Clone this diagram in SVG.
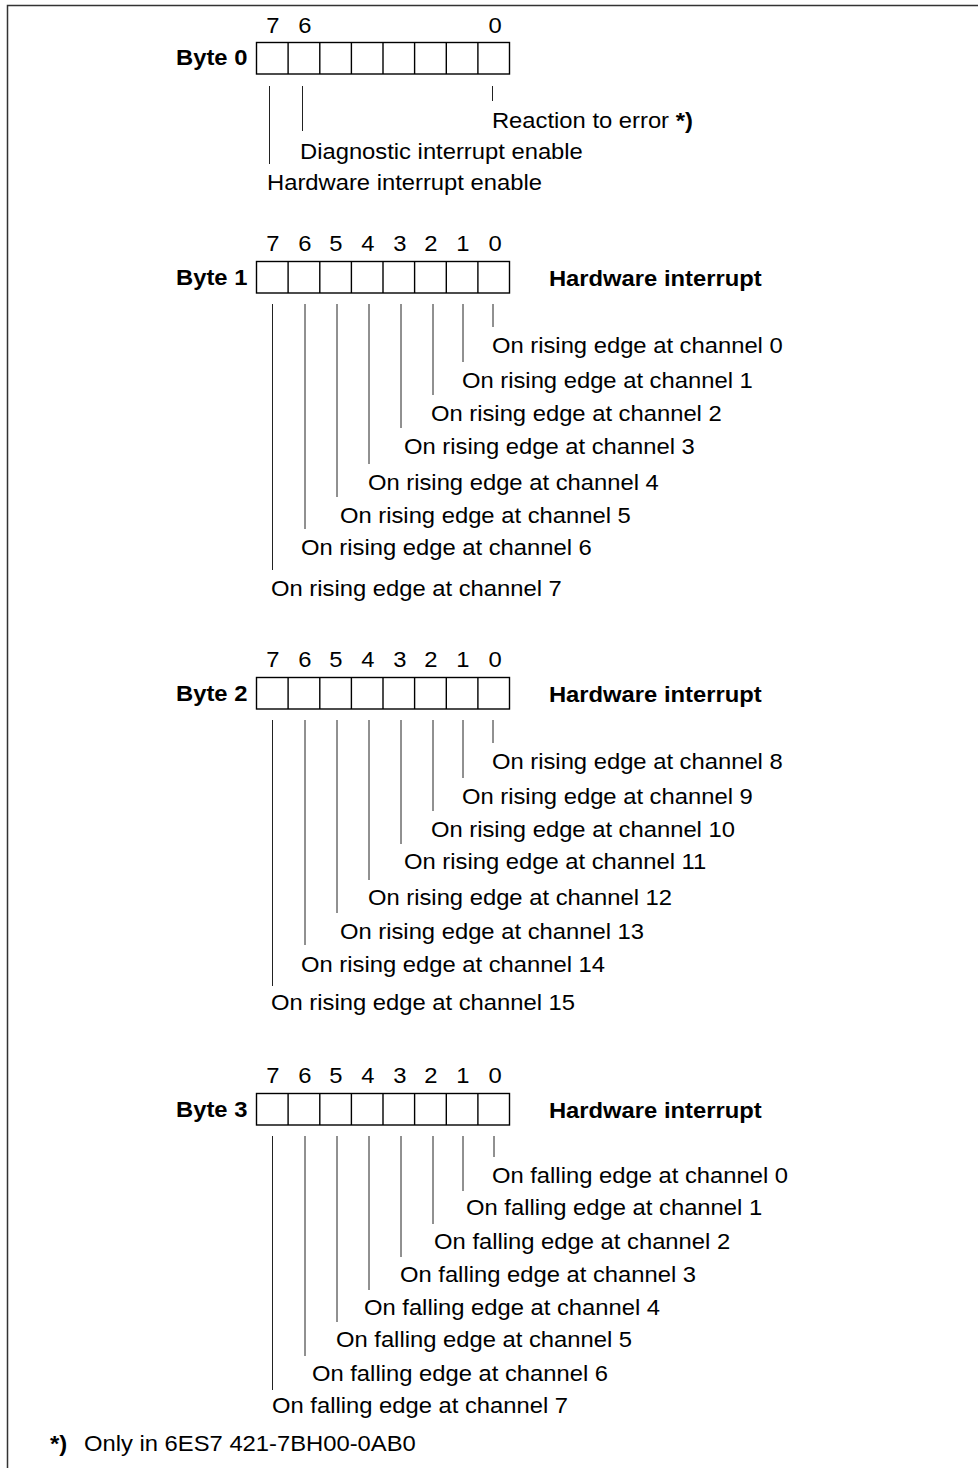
<svg xmlns="http://www.w3.org/2000/svg" width="978" height="1468" viewBox="0 0 978 1468">
<style>
.t{font-family:"Liberation Sans",Arial,sans-serif;font-size:21.5px;fill:#000}
.b{font-weight:bold}
.d{text-anchor:middle}
.box{fill:none;stroke:#000;stroke-width:1.4}
.ld{stroke:#222;stroke-width:1;fill:none}
.fr{stroke:#333;stroke-width:1.5;fill:none}
</style>
<defs>
<g id="reg">
<rect class="box" x="256.5" y="0" width="253" height="31.5"/>
<path class="box" d="M288.1 0V31.5M319.8 0V31.5M351.4 0V31.5M383 0V31.5M414.6 0V31.5M446.3 0V31.5M477.9 0V31.5"/>
</g>
</defs>
<path class="fr" d="M7.5 1468V5.5H978"/>
<g id="byte0">
<use href="#reg" y="42.5"/>
<g transform="scale(1.107,1)">
<text class="t d" x="246.6" y="33">7</text>
<text class="t d" x="275.5" y="33">6</text>
<text class="t d" x="447.2" y="33">0</text>
<text class="t b" x="159" y="65">Byte 0</text>
<text class="t" x="444.4" y="128">Reaction to error <tspan class="b">*)</tspan></text>
<text class="t" x="271" y="159">Diagnostic interrupt enable</text>
<text class="t" x="241.2" y="190">Hardware interrupt enable</text>
</g>
</g>
<g id="byte1">
<use href="#reg" y="261.5"/>
<g transform="scale(1.107,1)">
<text class="t d" x="246.6" y="251">7</text><text class="t d" x="275.5" y="251">6</text><text class="t d" x="303.5" y="251">5</text><text class="t d" x="332.4" y="251">4</text><text class="t d" x="361.3" y="251">3</text><text class="t d" x="389.3" y="251">2</text><text class="t d" x="418.2" y="251">1</text><text class="t d" x="447.2" y="251">0</text>
<text class="t b" x="159" y="285">Byte 1</text>
<text class="t b" x="495.9" y="286">Hardware interrupt</text>
<text class="t" x="444.4" y="353">On rising edge at channel 0</text>
<text class="t" x="417.3" y="388">On rising edge at channel 1</text>
<text class="t" x="389.3" y="421">On rising edge at channel 2</text>
<text class="t" x="365" y="454">On rising edge at channel 3</text>
<text class="t" x="332.4" y="490">On rising edge at channel 4</text>
<text class="t" x="307.1" y="523">On rising edge at channel 5</text>
<text class="t" x="271.9" y="555">On rising edge at channel 6</text>
<text class="t" x="244.8" y="596">On rising edge at channel 7</text>
</g>
</g>
<g id="byte2">
<use href="#reg" y="677.5"/>
<g transform="scale(1.107,1)">
<text class="t d" x="246.6" y="667">7</text><text class="t d" x="275.5" y="667">6</text><text class="t d" x="303.5" y="667">5</text><text class="t d" x="332.4" y="667">4</text><text class="t d" x="361.3" y="667">3</text><text class="t d" x="389.3" y="667">2</text><text class="t d" x="418.2" y="667">1</text><text class="t d" x="447.2" y="667">0</text>
<text class="t b" x="159" y="701">Byte 2</text>
<text class="t b" x="495.9" y="702">Hardware interrupt</text>
<text class="t" x="444.4" y="769">On rising edge at channel 8</text>
<text class="t" x="417.3" y="804">On rising edge at channel 9</text>
<text class="t" x="389.3" y="837">On rising edge at channel 10</text>
<text class="t" x="365" y="869">On rising edge at channel 11</text>
<text class="t" x="332.4" y="905">On rising edge at channel 12</text>
<text class="t" x="307.1" y="939">On rising edge at channel 13</text>
<text class="t" x="271.9" y="972">On rising edge at channel 14</text>
<text class="t" x="244.8" y="1010">On rising edge at channel 15</text>
</g>
</g>
<g id="byte3">
<use href="#reg" y="1093.5"/>
<g transform="scale(1.107,1)">
<text class="t d" x="246.6" y="1083">7</text><text class="t d" x="275.5" y="1083">6</text><text class="t d" x="303.5" y="1083">5</text><text class="t d" x="332.4" y="1083">4</text><text class="t d" x="361.3" y="1083">3</text><text class="t d" x="389.3" y="1083">2</text><text class="t d" x="418.2" y="1083">1</text><text class="t d" x="447.2" y="1083">0</text>
<text class="t b" x="159" y="1117">Byte 3</text>
<text class="t b" x="495.9" y="1118">Hardware interrupt</text>
<text class="t" x="444.4" y="1183">On falling edge at channel 0</text>
<text class="t" x="421" y="1215">On falling edge at channel 1</text>
<text class="t" x="392.1" y="1249">On falling edge at channel 2</text>
<text class="t" x="361.3" y="1282">On falling edge at channel 3</text>
<text class="t" x="328.8" y="1315">On falling edge at channel 4</text>
<text class="t" x="303.5" y="1347">On falling edge at channel 5</text>
<text class="t" x="281.8" y="1381">On falling edge at channel 6</text>
<text class="t" x="245.7" y="1413">On falling edge at channel 7</text>
</g>
</g>
<g id="footnote" transform="scale(1.107,1)">
<text class="t b" x="45.2" y="1451">*)</text>
<text class="t" x="75.9" y="1451">Only in 6ES7 421-7BH00-0AB0</text>
</g>
<g id="connectors">
<path class="ld" d="M269.5 86V164M302.5 86V131M492.5 86V101"/>
<path class="ld" d="M272.5 304V570M305 304V529M337 304V497M369 304V464M401 304V428M433 304V395M463 304V362M493 304V327"/>
<path class="ld" d="M272.5 720V986M305 720V945M337 720V913M369 720V880M401 720V844M433 720V811M463 720V778M493 720V743"/>
<path class="ld" d="M272.5 1136V1390M305 1136V1356M337 1136V1322M369 1136V1290M401 1136V1257M433 1136V1224M463 1136V1191M494 1136V1157"/>
</g>
</svg>
